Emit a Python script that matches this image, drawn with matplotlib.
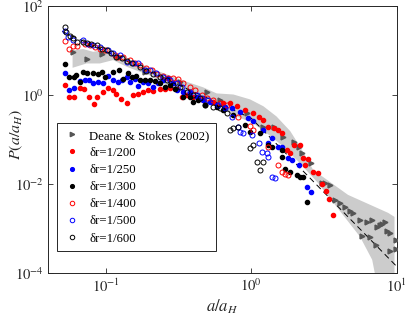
import matplotlib
matplotlib.use("Agg")
import matplotlib.pyplot as plt
import numpy as np

plt.rcParams['font.family'] = ['Liberation Serif', 'DejaVu Serif']
plt.rcParams['mathtext.fontset'] = 'stix'

# Deane & Stokes (2002) data
ds_x = [0.0590, 0.0736, 0.0933, 0.122, 0.185, 0.248, 0.323, 0.493, 0.609, 0.929,
        1.21, 1.42, 1.66, 1.95, 2.11, 2.22, 2.56, 3.05, 3.21, 3.48, 3.77, 4.08,
        4.41, 4.77, 5.03, 5.59, 6.28, 6.73, 7.36, 7.68, 7.88, 8.31, 8.53, 9.00,
        9.89, 5.74, 6.56, 7.21, 9.00, 9.89]
ds_y = [9.06, 6.42, 8.17, 7.24, 3.34, 2.36, 1.99, 1.19, 0.773, 0.388,
        0.195, 0.188, 0.116, 0.0898, 0.0694, 0.0492, 0.0293, 0.0104, 0.0104, 0.00958,
        0.00442, 0.00372, 0.00313, 0.00242, 0.00222, 0.00157, 0.00144, 0.00152,
        0.00111, 0.00121, 0.00129, 0.00144, 0.00086, 0.000789, 0.00056, 0.000688,
        0.00065, 0.000432, 0.000306, 0.000345]

# shaded band (upper edge then lower edge)
band_top_x = [0.0590, 0.0698, 0.0817, 0.0959, 0.112, 0.139, 0.181, 0.235, 0.290,
              0.359, 0.467, 0.577, 0.752, 0.979, 1.21, 1.49, 1.85, 2.16, 2.66,
              4.62, 8.72, 9.64]
band_top_y = [10.2, 10.8, 9.37, 10.2, 9.37, 6.64, 4.71, 3.34, 2.58, 1.99, 1.49,
              1.09, 1.03, 0.80, 0.56, 0.33, 0.155, 0.0694, 0.0208, 0.00571,
              0.00225, 0.00183]
band_bot_x = [9.64, 7.10, 6.77, 5.59, 2.87, 2.16, 1.66, 1.28, 1.03, 0.752, 0.577,
              0.443, 0.340, 0.261, 0.212, 0.171, 0.139, 0.112, 0.0909, 0.0736, 0.0590]
band_bot_y = [2.5e-5, 9.0e-5, 0.000199, 0.000653, 0.0106, 0.0293, 0.0694, 0.138,
              0.232, 0.356, 0.548, 0.773, 1.19, 1.68, 2.58, 3.34, 4.32, 6.10, 5.13,
              5.13, 4.10]

# reference power-law line (breakpoints)
fit_x = [0.05, 1.0, 10.0]
fit_y = [27.0, 0.30, 1.4e-4]

r200_x = [0.0522, 0.0560, 0.0602, 0.0662, 0.0710, 0.0768, 0.0826, 0.0871, 0.0959,
          0.104, 0.111, 0.117, 0.126, 0.139, 0.154, 0.167, 0.181, 0.195, 0.212,
          0.235, 0.255, 0.276, 0.306, 0.332, 0.359, 0.399, 0.432, 0.467, 0.548,
          0.641, 0.713, 0.793, 0.904, 1.03, 1.12, 1.21, 1.31, 1.42, 1.53, 1.62,
          1.95, 2.16, 1.75, 1.85, 2.28, 2.47, 2.34, 2.67, 2.89, 3.05, 3.26, 3.44, 3.63]
r200_y = [1.68, 0.918, 0.887, 1.41, 1.36, 0.918, 0.618, 0.887, 1.19,
          1.41, 1.29, 1.05, 0.813, 0.650, 1.00, 1.03, 1.19, 1.29, 1.25,
          1.34, 1.34, 1.41, 1.34, 0.918, 1.00, 0.918, 0.842, 0.773, 0.708,
          0.650, 0.650, 0.567, 0.461, 0.388, 0.327, 0.275, 0.195, 0.179, 0.164, 0.138,
          0.0756, 0.074, 0.0584, 0.0492, 0.0380, 0.036, 0.0269, 0.0191, 0.0181, 0.0101,
          0.00715, 0.00457, 0.00203]

r250_x = [0.0522, 0.0560, 0.0602, 0.0662, 0.0717, 0.0768, 0.0817, 0.0885, 0.0959,
          0.104, 0.112, 0.122, 0.130, 0.139, 0.146, 0.158, 0.167, 0.181, 0.195,
          0.212, 0.229, 0.248, 0.269, 0.290, 0.306, 0.340, 0.378, 0.421, 0.467,
          0.520, 0.577, 0.659, 0.732, 0.836, 0.954, 1.03, 1.21, 1.31, 1.38, 1.53,
          1.62, 1.80, 1.89, 2.11, 2.40, 2.57]
r250_y = [3.17, 1.29, 1.41, 2.06, 2.17, 2.17, 1.83, 1.99, 1.83,
          2.67, 2.17, 1.99, 2.17, 2.58, 1.99, 2.24, 1.59, 1.99, 1.83,
          1.54, 1.83, 2.17, 2.36, 1.83, 1.29, 1.19, 1.09, 0.918, 0.773,
          0.708, 0.597, 0.548, 0.502, 0.423, 0.300, 0.266, 0.164, 0.0853, 0.107, 0.0694,
          0.0694, 0.0380, 0.0348, 0.0269, 0.00879, 0.00679]

r300_x = [0.0522, 0.0560, 0.0602, 0.0622, 0.0662, 0.0698, 0.0744, 0.0809, 0.0885,
          0.0933, 0.0984, 0.112, 0.124, 0.132, 0.141, 0.150, 0.161, 0.171, 0.185,
          0.201, 0.217, 0.235, 0.255, 0.276, 0.298, 0.340, 0.378, 0.399, 0.432,
          0.480, 0.577, 0.641, 0.752, 0.904, 0.979, 1.15, 1.31, 1.38, 1.62, 1.62,
          1.71, 1.85, 2.05, 2.16, 2.28, 2.40]
r300_y = [4.87, 2.49, 2.58, 2.81, 1.99, 3.34, 3.06, 3.17, 2.91,
          3.34, 2.58, 3.34, 3.64, 2.29, 3.06, 2.58, 2.67, 2.17, 2.17,
          2.17, 2.10, 1.83, 1.54, 1.68, 1.34, 0.918, 0.918, 0.708, 0.773,
          0.597, 0.548, 0.461, 0.356, 0.212, 0.151, 0.138, 0.0756, 0.0694, 0.0584, 0.0414,
          0.0219, 0.0191, 0.0161, 0.0147, 0.0142, 0.00405]

r400_x = [0.0522, 0.0560, 0.0590, 0.0635, 0.0717, 0.0776, 0.0839, 0.0909, 0.0984,
          0.115, 0.122, 0.132, 0.146, 0.158, 0.171, 0.190, 0.206, 0.223, 0.248,
          0.269, 0.290, 0.315, 0.340, 0.378, 0.410, 0.455, 0.493, 0.548, 0.609,
          0.676, 0.814, 0.979, 1.03, 1.31, 1.53, 1.62, 1.71, 1.80]
r400_y = [16.5, 11.1, 12.6, 12.6, 13.9, 13.2, 12.1, 11.1, 10.2,
          7.89, 7.24, 7.0, 6.10, 5.13, 4.71, 3.96, 3.64, 2.96, 2.67,
          2.36, 2.36, 2.24, 1.89, 1.54, 1.29, 1.00, 0.842, 0.773, 0.650,
          0.597, 0.327, 0.202, 0.164, 0.0694, 0.0269, 0.0191, 0.0169, 0.0161]

r500_x = [0.0522, 0.0551, 0.0596, 0.0698, 0.0756, 0.0817, 0.0909, 0.104, 0.112,
          0.125, 0.139, 0.154, 0.167, 0.185, 0.201, 0.221, 0.248, 0.276, 0.306,
          0.332, 0.378, 0.421, 0.455, 0.506, 0.593, 0.659, 0.732, 0.814, 0.836,
          0.881, 1.005, 1.12, 1.18, 1.28, 1.31, 1.38, 1.46]
r500_y = [27.7, 20.3, 17.7, 17.1, 14.4, 13.2, 12.1, 10.2, 8.91,
          7.89, 5.59, 5.13, 5.31, 3.64, 3.64, 3.06, 2.49, 2.17, 1.83,
          1.54, 1.19, 1.00, 0.842, 0.773, 0.597, 0.502, 0.327, 0.195, 0.151,
          0.138, 0.127, 0.0824, 0.0536, 0.0492, 0.0414, 0.0142, 0.0135]

r600_x = [0.0522, 0.0528, 0.0565, 0.0596, 0.0629, 0.0698, 0.0744, 0.0796, 0.0862,
          0.0933, 0.101, 0.109, 0.118, 0.128, 0.139, 0.150, 0.171, 0.190, 0.212,
          0.235, 0.261, 0.290, 0.323, 0.359, 0.399, 0.443, 0.480, 0.548, 0.609,
          0.676, 0.713, 0.752, 0.814, 0.979, 1.03, 1.09, 1.21, 1.15]
r600_y = [33.0, 26.3, 21.1, 18.7, 15.7, 15.7, 14.9, 14.4, 13.2,
          11.1, 10.2, 8.60, 7.24, 6.64, 5.89, 5.31, 4.32, 3.51, 2.96,
          2.58, 2.17, 1.68, 1.49, 1.19, 1.00, 0.842, 0.597, 0.548, 0.502,
          0.388, 0.164, 0.179, 0.195, 0.0637, 0.0756, 0.0314, 0.0314, 0.0208]

labels = ['Deane & Stokes (2002)', 'δr=1/200', 'δr=1/250', 'δr=1/300',
          'δr=1/400', 'δr=1/500', 'δr=1/600']

fig = plt.figure(figsize=(4.07, 3.19), dpi=100)
ax = fig.add_axes([0.118, 0.144, 0.857, 0.837])

ax.fill(band_top_x + band_bot_x, band_top_y + band_bot_y,
        color='#cccccc', lw=0, zorder=1)
ax.plot(fit_x, fit_y, color='k', lw=0.7, ls=(0, (6, 4)), zorder=2)

ds_col = '#555555'
ax.plot(ds_x, ds_y, ls='none', marker='>', ms=3.5, color=ds_col, mec=ds_col,
        zorder=3, label=labels[0])
ax.plot(r200_x, r200_y, ls='none', marker='o', ms=3.0, color='#ff0000', mec='#ff0000',
        zorder=4, label=labels[1])
ax.plot(r250_x, r250_y, ls='none', marker='o', ms=3.0, color='#0000ff', mec='#0000ff',
        zorder=4, label=labels[2])
ax.plot(r300_x, r300_y, ls='none', marker='o', ms=3.0, color='k', mec='k',
        zorder=4, label=labels[3])
ax.plot(r400_x, r400_y, ls='none', marker='o', ms=3.6, mfc='none', mec='#ff0000',
        mew=0.7, zorder=5, label=labels[4])
ax.plot(r500_x, r500_y, ls='none', marker='o', ms=3.6, mfc='none', mec='#0000ff',
        mew=0.7, zorder=5, label=labels[5])
ax.plot(r600_x, r600_y, ls='none', marker='o', ms=3.6, mfc='none', mec='k',
        mew=0.7, zorder=5, label=labels[6])

ax.set_xscale('log')
ax.set_yscale('log')
ax.set_xlim(0.04, 10)
ax.set_ylim(1e-4, 1e2)
ax.set_xticks([0.1, 1, 10])
ax.set_xticklabels([r'$10^{-1}$', r'$10^{0}$', r'$10^{1}$'])
ax.set_yticks([1e-4, 1e-2, 1, 1e2])
ax.set_yticklabels([r'$10^{-4}$', r'$10^{-2}$', r'$10^{0}$', r'$10^{2}$'])
ax.minorticks_off()
ax.tick_params(which='both', direction='in', top=True, right=True, length=3.5,
               width=0.6, labelsize=10.5, colors='#262626', pad=3)
for s in ax.spines.values():
    s.set_linewidth(0.7)
    s.set_color('#262626')

ax.set_xlabel(r'$a/a_H$', fontsize=12, labelpad=2, color='#262626')
ax.set_ylabel(r'$P(a/a_H)$', fontsize=11.5, color='#262626')
ax.yaxis.set_label_coords(-0.066, 0.52)

leg = ax.legend(loc='lower left', bbox_to_anchor=(0.027, 0.083), fontsize=9.2,
                frameon=True, fancybox=False, edgecolor='#262626', framealpha=1,
                handlelength=1.3, handletextpad=0.7, labelspacing=0.40,
                borderpad=0.5, borderaxespad=0, markerscale=0.9)
leg.get_frame().set_linewidth(0.7)

fig.savefig('out.png', dpi=100)
